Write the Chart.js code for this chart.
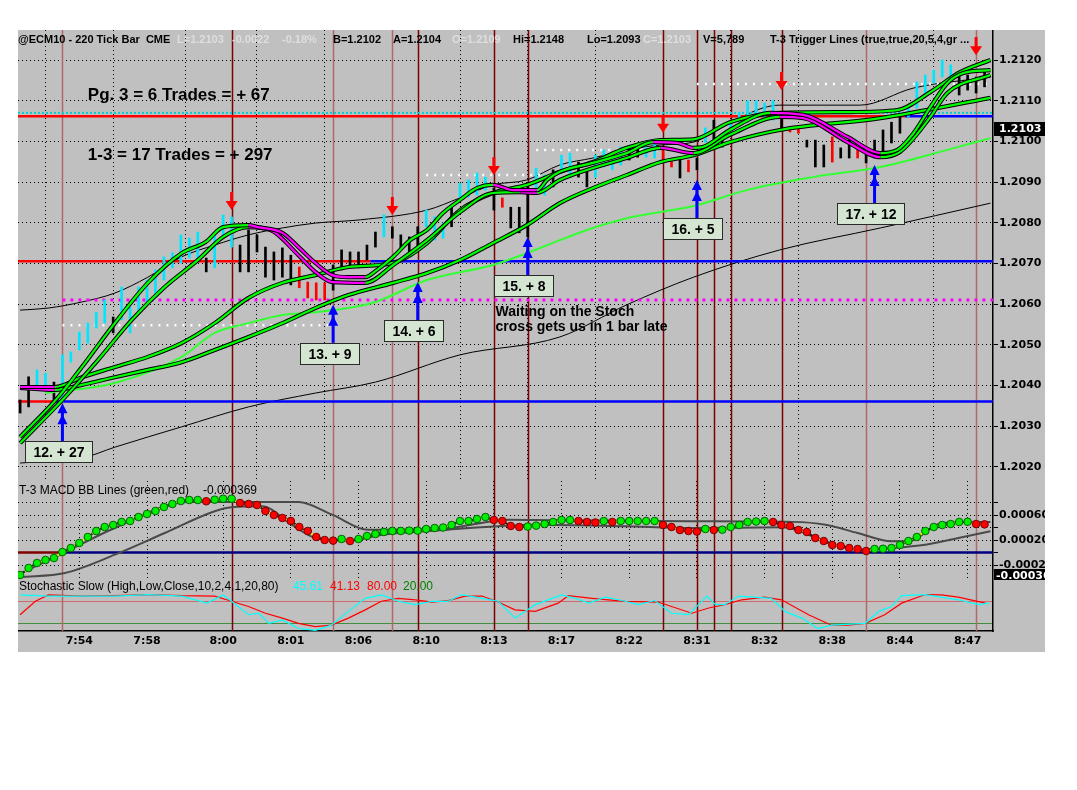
<!DOCTYPE html>
<html>
<head>
<meta charset="utf-8">
<title>ECM10 220 Tick Bar</title>
<script src="https://cdn.jsdelivr.net/npm/chart.js@4.4.1/dist/chart.umd.min.js"></script>
<style>
  html, body { margin: 0; padding: 0; background: #fff; }
  #panel { position: absolute; left: 18px; top: 30px; width: 1027px; height: 622px; background: #c0c0c0; }
  canvas { position: absolute; left: 18px; }
</style>
</head>
<body>
<div id="panel"></div>
<canvas id="price" width="1027" height="451" style="top:30px"></canvas>
<canvas id="macd" width="1027" height="99" style="top:481px"></canvas>
<canvas id="stoch" width="1027" height="72" style="top:580px"></canvas>
<script>
// ---- values ----
const timeLabels = ['7:54', '7:58', '8:00', '8:01', '8:06', '8:10', '8:13', '8:17', '8:22', '8:31', '8:32', '8:38', '8:44', '8:47'];
const timeBars = [7, 15, 24, 32, 40, 48, 56, 64, 72, 80, 88, 96, 104, 112];
const priceTicks = [1.2020, 1.2030, 1.2040, 1.2050, 1.2060, 1.2070, 1.2080, 1.2090, 1.2100, 1.2110, 1.2120];
const lastPrice = 1.2103;

const barHigh = [1.20364,1.20421,1.20438,1.20430,1.20408,1.20475,1.20482,1.20531,1.20553,1.20580,
  1.20610,1.20568,1.20642,1.20592,1.20642,1.20659,1.20684,1.20716,1.20726,1.20770,
  1.20762,1.20777,1.20713,1.20770,1.20819,1.20814,1.20745,1.20782,1.20770,1.20740,
  1.20728,1.20738,1.20720,1.20691,1.20654,1.20652,1.20652,1.20696,1.20733,1.20728,
  1.20728,1.20745,1.20777,1.20819,1.20790,1.20770,1.20765,1.20790,1.20831,1.20814,
  1.20799,1.20838,1.20897,1.20905,1.20922,1.20912,1.20885,1.20861,1.20838,1.20838,
  1.20888,1.20934,1.20917,1.20930,1.20966,1.20971,1.20949,1.20930,1.20966,1.20979,
  1.20974,1.20986,1.20986,1.20986,1.20986,1.21003,1.20979,1.20950,1.20959,1.20954,
  1.20959,1.21033,1.21052,1.21016,1.21052,1.21072,1.21100,1.21100,1.21094,1.21100,
  1.21057,1.21035,1.21033,1.21003,1.21003,1.20991,1.21011,1.20984,1.21003,1.20986,
  1.20979,1.21003,1.21028,1.21047,1.21060,1.21084,1.21146,1.21163,1.21175,1.21200,
  1.21188,1.21170,1.21163,1.21158,1.21170];
const barLow = [1.20332,1.20347,1.20396,1.20401,1.20359,1.20359,1.20457,1.20487,1.20504,1.20541,
  1.20553,1.20529,1.20561,1.20529,1.20580,1.20602,1.20622,1.20659,1.20689,1.20701,
  1.20713,1.20713,1.20679,1.20689,1.20770,1.20740,1.20679,1.20679,1.20728,1.20666,
  1.20659,1.20666,1.20647,1.20640,1.20615,1.20610,1.20610,1.20634,1.20684,1.20689,
  1.20689,1.20708,1.20740,1.20765,1.20762,1.20733,1.20728,1.20733,1.20790,1.20757,
  1.20762,1.20790,1.20856,1.20863,1.20868,1.20880,1.20831,1.20838,1.20787,1.20775,
  1.20765,1.20885,1.20868,1.20888,1.20930,1.20917,1.20912,1.20888,1.20912,1.20937,
  1.20930,1.20942,1.20954,1.20961,1.20961,1.20959,1.20950,1.20937,1.20910,1.20925,
  1.20930,1.20998,1.20996,1.20986,1.21023,1.21040,1.21047,1.21057,1.21057,1.21052,
  1.21033,1.21023,1.21020,1.20986,1.20937,1.20937,1.20949,1.20959,1.20959,1.20959,
  1.20947,1.20959,1.20961,1.20996,1.21020,1.21060,1.21082,1.21114,1.21143,1.21158,
  1.21158,1.21114,1.21126,1.21119,1.21134];
// c = up (cyan), k = black, r = red
const barKind = ('kkcckccccc' + 'ckcccccccc' + 'cckccckkkk' + 'kkkrrrrkkk' + 'kkkckkkkcc' +
  'ckcccckrkk' + 'kcckcckkcc' + 'cckkccrrkr' + 'kckkcccccc' + 'krrkkkrkkr' + 'kkkkkccccc' + 'ckkkk').split('');

// T-3 trigger lines, [bar, price]
const fastA = [[0,1.20273],[4.5,1.20371],[7.3,1.20445],[11.2,1.20553],[15.1,1.20652],[19.1,1.20725],[21.9,1.20752],
  [24,1.20789],[27,1.20794],[28.1,1.20789],[31,1.20775],[32.9,1.2074],[34.9,1.20701],[36.9,1.20671],[38.8,1.20666],
  [40.8,1.20666],[42.2,1.20684],[44.1,1.20716],[46.1,1.20757],[48.1,1.20782],[50,1.20824],[52,1.20856],[54,1.20885],
  [55.9,1.20893],[58.3,1.2088],[61.1,1.2088],[62.3,1.20905],[63.8,1.20925],[67.7,1.20947],[71.7,1.20971],[74.8,1.20998],
  [77.7,1.20996],[79.6,1.20984],[80.7,1.20986],[83.9,1.21028],[88.7,1.2107],[92.6,1.21065],[97.8,1.21011],[101.7,1.20971],
  [103.7,1.20979],[105.6,1.2102],[107.6,1.21084],[109.6,1.21143],[111.5,1.21168],[114.7,1.21175]];
const fastB = [[0,1.20258],[5.3,1.20371],[9.2,1.20462],[13.2,1.20561],[17.1,1.20642],[21,1.20708],[24,1.20765],
  [27,1.20789],[29.6,1.20782],[32.9,1.2072],[34.9,1.20679],[36.9,1.20654],[40.8,1.20652],[44.1,1.20696],[48.1,1.20757],
  [52,1.20826],[55.9,1.20873],[59.1,1.20875],[61.1,1.20873],[63.8,1.20905],[71.7,1.20959],[75.7,1.20984],[79.6,1.20971],
  [83.9,1.21016],[89.8,1.2106],[92.6,1.21057],[97.8,1.20998],[101.7,1.20961],[104,1.20974],[107.6,1.2106],
  [109.6,1.21119],[114.7,1.21163]];
const midC = [[0,1.20396],[4.1,1.20396],[7.3,1.2042],[11.2,1.20445],[15.1,1.2047],[19.1,1.20504],[23,1.20553],
  [27,1.20615],[31,1.20652],[34.9,1.20671],[38.8,1.20691],[44.1,1.20701],[48.1,1.2075],[52,1.20831],[55.9,1.20873],
  [59.9,1.20893],[63.8,1.20925],[67.7,1.20949],[71.7,1.20984],[75.7,1.21003],[79.6,1.21005],[83.9,1.21047],
  [89.8,1.2107],[97.8,1.21072],[103.7,1.21077],[107.6,1.21121],[111.1,1.2117],[114.7,1.212]];
const slowD = [[0,1.20394],[4.1,1.20389],[7.3,1.20401],[11.2,1.2042],[15.1,1.20438],[19.1,1.20457],[23,1.20487],
  [27,1.20519],[31,1.20553],[34.9,1.2059],[38.8,1.20622],[44.1,1.20652],[48.1,1.20676],[52,1.20708],[55.9,1.2075],
  [59.9,1.20794],[63.8,1.20848],[67.7,1.20885],[71.7,1.20917],[75.7,1.20949],[79.6,1.20966],[83.9,1.20998],
  [89.8,1.21028],[101.7,1.21057],[114.7,1.21107]];
const slowE = [[3,1.20381],[11.2,1.20406],[19.1,1.2047],[23,1.20529],[27,1.20553],[31,1.20573],[34.9,1.2058],
  [38.8,1.2059],[42,1.20605],[48.1,1.20659],[55.9,1.20696],[59.9,1.20725],[63.8,1.20757],[67.7,1.20787],[71.7,1.20811],
  [75.7,1.20826],[79.6,1.20841],[85.9,1.2088],[93.7,1.20912],[101.7,1.20937],[109.6,1.20979],[114.7,1.21008]];
const upperBand = [[0,1.20585],[3.3,1.2059],[7.3,1.20605],[11.2,1.20627],[15.1,1.20666],[19.1,1.20716],[23,1.20745],
  [27,1.2077],[31,1.20787],[34.9,1.20799],[40.2,1.20807],[48.1,1.20831],[52,1.20861],[55.9,1.20893],[59.9,1.20905],
  [63.8,1.20942],[67.7,1.20959],[71.7,1.20979],[75.7,1.20991],[79.6,1.20998],[81.9,1.21023],[89.8,1.21089],
  [99.3,1.21089],[105.6,1.21131],[114.7,1.21158]];
const lowerBand = [[0,1.20209],[7.3,1.20221],[11.2,1.20248],[19.1,1.20298],[27,1.20347],[34.9,1.20381],[42,1.20408],
  [52,1.20475],[63.8,1.20519],[71.7,1.20598],[79.6,1.20666],[89.8,1.20733],[101.7,1.20787],[114.7,1.20848]];

// stop levels: red until the switch bar, blue after it
const levelPrices = [1.21062, 1.20705, 1.20360];
const levelSwitchBars = [104.6, 41.4, 4.1];
const cyanLevel = 1.2107;
const magentaLevel = 1.2061, magentaFrom = 5;
const whiteLevels = [[5, 37, 1.20548], [48, 62, 1.20917], [61, 78, 1.20979], [80, 114.7, 1.21141]];

// signal bars (vertical lines), 1 = dark
const sigBars = [5, 25, 37, 44, 47, 56, 60, 76, 80, 82, 84, 90, 100, 113];
const sigDark = [0, 1, 0, 0, 1, 1, 1, 1, 1, 1, 1, 1, 0, 0];
const redArrowBars = [25, 44, 56, 76, 90, 113];
const redArrowTips = [1.20831, 1.20819, 1.20917, 1.21021, 1.21126, 1.21212];
const tradeBars = [5, 37, 47, 60, 80, 101];
const tradeTips = [1.20356, 1.20598, 1.20654, 1.20765, 1.20905, 1.20942];
const tradeLabels = ['12. + 27', '13. + 9', '14. + 6', '15. + 8', '16. + 5', '17. + 12'];
const noteTexts = ['Pg. 3 = 6 Trades = + 67', '1-3 = 17 Trades = + 297', 'Waiting on the Stoch', 'cross gets us in 1 bar late'];
const noteBars = [8, 8, 56.2, 56.2];
const notePrices = [1.21112, 1.20966, 1.2058, 1.20543];

// MACD panel
const macdValues = [-0.00036,-0.000248,-0.000168,-0.00012,-0.000088,0.000008,0.000072,0.000152,0.000248,0.000344,
  0.000408,0.00044,0.000488,0.000504,0.000568,0.000616,0.000664,0.000728,0.000776,0.000824,
  0.00084,0.00084,0.00082,0.000845,0.00086,0.00086,0.000792,0.000776,0.00076,0.000664,
  0.0006,0.000552,0.000504,0.000408,0.000344,0.000248,0.0002,0.00019,0.000216,0.000184,
  0.000216,0.000264,0.000296,0.000328,0.000344,0.000344,0.00035,0.00035,0.000376,0.000392,
  0.0004,0.00044,0.000504,0.000504,0.000536,0.000568,0.00052,0.000504,0.000424,0.000408,
  0.000415,0.00043,0.000456,0.000488,0.00052,0.00052,0.000504,0.000488,0.00048,0.000504,
  0.000488,0.000504,0.000504,0.000504,0.000504,0.000504,0.00044,0.000408,0.00036,0.000344,
  0.000335,0.000376,0.00036,0.000365,0.000408,0.00044,0.000488,0.000495,0.000504,0.000488,
  0.00044,0.000424,0.00036,0.000328,0.000232,0.000184,0.00012,0.000104,0.000072,0.000056,
  0.000024,0.000056,0.00006,0.000072,0.00012,0.000184,0.000248,0.000344,0.000408,0.00044,
  0.000456,0.000488,0.000492,0.000456,0.00045];
const macdUpper = [[0,-0.00034],[4.9,-0.000024],[11.2,0.000392],[19.9,0.000808],[32.9,0.000808],[36.9,0.000605],
  [41.1,0.000365],[50.6,0.000392],[57.7,0.000525],[63.6,0.000515],[71.5,0.000509],[79.4,0.0005],[91.3,0.00049],
  [95.2,0.000445],[99,0.000312],[103,0.000179],[105,0.000179],[109,0.000472],[114.7,0.000488]];
const macdLower = [[0,-0.000392],[5.3,-0.000328],[11.2,-0.000035],[17.1,0.000312],[23,0.000659],[25,0.000723],
  [28.6,0.000739],[32.1,0.000445],[34.9,0.000232],[38.8,0.000189],[42.8,0.000285],[50.6,0.000365],[56.5,0.000419],
  [60.9,0.000445],[71.5,0.000419],[79.4,0.000392],[90.1,0.000403],[95.2,0.000179],[99,0.000045],[103,0.000072],
  [107,0.000125],[110.9,0.000232],[114.7,0.000339]];
const macdTicks = [0.0008, 0.0006, 0.0004, 0.0002, 0, -0.0002];
const macdLabelled = [0.0006, 0.0002, -0.0002];
const macdZeroSwitch = 5;
const macdReadout = -0.000369;

// Stochastic panel, [bar, value]
const stochK = [[0,97],[3.35,94],[7.3,94],[11.2,94],[15.2,98],[19.1,94],[22.1,75],[24,97],[25,80],[27,44],[28.2,48],
  [29.4,21],[31,30],[32.9,7],[34.9,2],[36.8,16],[38.8,53],[40.8,88],[42.7,97],[44.7,80],[46.7,71],[48.7,80],[50.6,80],
  [52.2,98],[54.6,88],[56.5,80],[58.5,35],[60.9,71],[64,97],[65.6,88],[67.2,75],[69.2,91],[71.5,80],[73.1,71],[75,82],
  [77,48],[79,44],[81.2,94],[82.2,71],[83.3,71],[84.9,94],[88.8,88],[90.4,53],[92.4,35],[94.3,7],[95.9,16],[99.9,21],
  [101.5,53],[103,66],[104.2,95],[107,98],[110.9,84],[113.3,71],[114.5,75]];
const stochD = [[0,44],[1.8,80],[3.35,97],[7.3,94],[11.2,95],[15.2,98],[19.1,95],[23,94],[25,80],[27,66],[29,48],
  [31,35],[32.9,21],[34.9,12],[36.8,16],[38.8,35],[40.8,57],[42.7,80],[44.7,88],[46.7,84],[48.7,78],[50.6,82],[52.6,94],
  [54.6,94],[56.5,78],[58.5,57],[60.9,53],[63.6,75],[64.8,95],[67.6,88],[71.5,80],[75.4,78],[79.4,48],[81.4,62],
  [83.3,71],[85.3,84],[88,91],[90,84],[93.2,44],[95.9,16],[97.9,16],[99.9,21],[102.2,44],[104.2,75],[107,98],
  [108.9,97],[110.9,91],[114.1,75]];
const stochLevels = [80, 20];
const stochReadout = ['45.61', '41.13', '80.00', '20.00'];

// ---- drawing ----
const F = '"Liberation Sans", Arial, sans-serif';
const AX = '"DejaVu Sans", sans-serif';
Chart.defaults.font.family = F;

const pts = a => a.map(([x, y]) => ({x, y}));
const kindColor = {c: '#00e6ff', k: '#000000', r: '#ff0000'};

function xAxis(withLabels) {
  return {
    type: 'linear', min: -0.25, max: 115, offset: false,
    afterBuildTicks: s => { s.ticks = timeBars.map(v => ({value: v})); },
    afterFit: s => { s.height = withLabels ? 21 : 0; s.paddingLeft = 0; s.paddingRight = 0; },
    ticks: { display: withLabels, autoSkip: false, maxRotation: 0, padding: 4, color: '#000',
      font: {family: AX, weight: 'bold', size: 11},
      callback: v => timeLabels[timeBars.indexOf(v)] },
    grid: { drawTicks: false, drawOnChartArea: !withLabels, color: '#000', lineWidth: 1 },
    border: { display: withLabels, color: '#000', width: 1.5, dash: [1, 3] }
  };
}

function yAxis(min, max, ticks, label, gridColor, dash, showTicks) {
  return {
    position: 'right', min, max,
    afterBuildTicks: s => { s.ticks = ticks.map(v => ({value: v})); },
    afterFit: s => { s.width = 52; s.paddingTop = 0; s.paddingBottom = 0; },
    ticks: { display: showTicks, color: '#000', padding: 1, font: {family: AX, weight: 'bold', size: 11}, callback: label },
    grid: { color: gridColor, lineWidth: 1, drawTicks: showTicks, tickLength: 5, tickColor: '#000', tickBorderDash: [10, 0] },
    border: { display: true, color: '#000', width: 1.5, dash }
  };
}

const baseOptions = {
  responsive: false, animation: false, events: [],
  layout: { padding: 0, autoPadding: false },
  elements: { point: { radius: 0 }, line: { tension: 0 } },
  plugins: { legend: { display: false }, tooltip: { enabled: false } }
};

const signalLines = {
  id: 'signalLines',
  beforeDatasetsDraw(chart) {
    const {ctx, chartArea: a, scales: {x}} = chart;
    ctx.save();
    ctx.lineWidth = 1.5;
    sigBars.forEach((b, k) => {
      const px = Math.round(x.getPixelForValue(b)) + 0.5;
      ctx.strokeStyle = sigDark[k] ? '#7c0000' : '#b06868';
      ctx.beginPath(); ctx.moveTo(px, a.top); ctx.lineTo(px, a.bottom); ctx.stroke();
    });
    ctx.restore();
  }
};

const headerParts = [
  ['@ECM10 - 220 Tick Bar  CME', 18, '#000'], ['L=1.2103', 177, '#dedede'], ['-0.0022', 232, '#dedede'],
  ['-0.18%', 282, '#dedede'], ['B=1.2102', 333, '#000'], ['A=1.2104', 393, '#000'], ['O=1.2109', 452, '#dedede'],
  ['Hi=1.2148', 513, '#000'], ['Lo=1.2093', 587, '#000'], ['C=1.2103', 643, '#dedede'], ['V=5,789', 703, '#000'],
  ['T-3 Trigger Lines (true,true,20,5,4,gr ...', 770, '#000']
];

const priceOverlay = {
  id: 'priceOverlay',
  afterDatasetsDraw(chart) {
    const {ctx, chartArea: a, scales: {x, y}} = chart;
    ctx.save();
    // sell arrows
    ctx.fillStyle = '#ff0000';
    redArrowBars.forEach((b, k) => {
      const px = x.getPixelForValue(b), py = y.getPixelForValue(redArrowTips[k]);
      ctx.fillRect(px - 1.5, py - 18, 3, 10);
      ctx.beginPath(); ctx.moveTo(px - 6, py - 9); ctx.lineTo(px + 6, py - 9); ctx.lineTo(px, py); ctx.closePath(); ctx.fill();
    });
    // entry arrows and result boxes
    tradeBars.forEach((b, k) => {
      const px = x.getPixelForValue(b), py = y.getPixelForValue(tradeTips[k]);
      ctx.fillStyle = '#0000ff';
      ctx.fillRect(px - 1.5, py + 6, 3, 32);
      [0, 11].forEach(d => {
        ctx.beginPath(); ctx.moveTo(px, py + d); ctx.lineTo(px + 5, py + d + 10); ctx.lineTo(px - 5, py + d + 10);
        ctx.closePath(); ctx.fill();
      });
      ctx.font = 'bold 14px ' + F;
      const w = Math.round(ctx.measureText(tradeLabels[k]).width + 16), h = 21;
      const bx = Math.round(px - 4 - w / 2) + 0.5, by = Math.round(py + 38) + 0.5;
      ctx.fillStyle = '#d4e6d2'; ctx.fillRect(bx, by, w, h);
      ctx.strokeStyle = '#2a2a2a'; ctx.lineWidth = 1; ctx.strokeRect(bx, by, w, h);
      ctx.fillStyle = '#000'; ctx.textAlign = 'center'; ctx.textBaseline = 'middle';
      ctx.fillText(tradeLabels[k], bx + w / 2, by + h / 2 + 1);
    });
    // notes
    ctx.textAlign = 'left'; ctx.textBaseline = 'middle'; ctx.fillStyle = '#000';
    noteTexts.forEach((t, k) => {
      ctx.font = 'bold ' + (k < 2 ? 17 : 14) + 'px ' + F;
      ctx.fillText(t, x.getPixelForValue(noteBars[k]), y.getPixelForValue(notePrices[k]));
    });
    // header line
    ctx.font = 'bold 11px ' + F;
    headerParts.forEach(([t, px, c]) => { ctx.fillStyle = c; ctx.fillText(t, px - 18, a.top + 10); });
    ctx.restore();
  },
  afterDraw(chart) {
    const {ctx, chartArea: a, scales: {y}} = chart;
    const py = Math.round(y.getPixelForValue(lastPrice));
    ctx.save();
    ctx.fillStyle = '#000'; ctx.fillRect(a.right + 1, py - 7, chart.width - a.right, 14);
    ctx.fillStyle = '#fff'; ctx.font = 'bold 11px ' + AX; ctx.textBaseline = 'middle'; ctx.textAlign = 'left';
    ctx.fillText(lastPrice.toFixed(4), a.right + 6, py);
    ctx.restore();
  }
};

// price panel datasets
const priceSets = [];
[fastA, fastB, midC, slowD].forEach((line, k) => {
  priceSets.push({ data: pts(line), borderColor: '#00ff00', borderWidth: 2.2, cubicInterpolationMode: 'monotone',
    segment: { borderColor: c => c.p1.parsed.y <= c.p0.parsed.y ? '#ff00ff' : '#00ff00' }, order: 2 * k + 1 });
  priceSets.push({ data: pts(line), borderColor: '#000', borderWidth: 4.2, cubicInterpolationMode: 'monotone', order: 2 * k + 2 });
});
priceSets.push({ data: pts(slowE), borderColor: '#33ff33', borderWidth: 2, cubicInterpolationMode: 'monotone', order: 9 });
priceSets.push({ type: 'bar', data: barLow.map((lo, i) => ({x: i, y: [lo, barHigh[i]]})),
  backgroundColor: barKind.map(k => kindColor[k]), barThickness: 2, order: 10 });
levelPrices.forEach((p, k) => {
  priceSets.push({ data: [{x: -0.25, y: p}, {x: levelSwitchBars[k], y: p}, {x: 115, y: p}], borderWidth: 2.5,
    borderColor: '#0000ff', segment: { borderColor: c => c.p0DataIndex === 0 ? '#ff0000' : '#0000ff' }, order: 11 });
});
priceSets.push({ data: [{x: -0.25, y: cyanLevel}, {x: 115, y: cyanLevel}], borderColor: '#00d0d0', borderWidth: 2, borderDash: [2, 2], order: 12 });
priceSets.push({ data: [{x: magentaFrom, y: magentaLevel}, {x: 115, y: magentaLevel}], borderColor: '#ff00ff', borderWidth: 3, borderDash: [3, 5], order: 12 });
whiteLevels.forEach(([a, b, p]) => {
  priceSets.push({ data: [{x: a, y: p}, {x: b, y: p}], borderColor: '#ffffff', borderWidth: 2.5, borderDash: [2, 6], order: 12 });
});
[upperBand, lowerBand].forEach(line => {
  priceSets.push({ data: pts(line), borderColor: '#000', borderWidth: 1, cubicInterpolationMode: 'monotone', order: 13 });
});

new Chart(document.getElementById('price'), {
  type: 'line',
  data: { datasets: priceSets },
  options: { ...baseOptions,
    scales: { x: xAxis(false), y: yAxis(1.201648, 1.212738, priceTicks, v => v.toFixed(4), '#000', [1, 3], true) } },
  plugins: [signalLines, priceOverlay]
});

// MACD panel
const macdOverlay = {
  id: 'macdOverlay',
  afterDatasetsDraw(chart) {
    const {ctx, chartArea: a} = chart;
    ctx.save();
    ctx.font = '12px ' + F; ctx.fillStyle = '#000'; ctx.textBaseline = 'middle'; ctx.textAlign = 'left';
    ctx.fillText('T-3 MACD BB Lines (green,red)', 1, a.top + 10);
    ctx.fillText(macdReadout.toFixed(6), 185, a.top + 10);
    ctx.restore();
  },
  afterDraw(chart) {
    const {ctx, chartArea: a, scales: {y}} = chart;
    const py = Math.round(y.getPixelForValue(macdReadout));
    ctx.save();
    ctx.fillStyle = '#000'; ctx.fillRect(a.right + 1, py - 7, chart.width - a.right, 13);
    ctx.fillStyle = '#fff'; ctx.font = 'bold 11px ' + AX; ctx.textBaseline = 'middle'; ctx.textAlign = 'left';
    ctx.fillText(macdReadout.toFixed(6), a.right + 3, py);
    ctx.restore();
  }
};
const macdDot = c => (c.dataIndex > 0 && macdValues[c.dataIndex] < macdValues[c.dataIndex - 1]) ? '#ff0000' : '#00ee00';
const macdEdge = c => (c.dataIndex > 0 && macdValues[c.dataIndex] < macdValues[c.dataIndex - 1]) ? '#7a0000' : '#006400';

new Chart(document.getElementById('macd'), {
  type: 'line',
  data: { datasets: [
    { data: macdValues.map((v, i) => ({x: i, y: v})), borderColor: '#ffff00', borderWidth: 2, borderDash: [3, 3],
      pointRadius: 3.8, pointBackgroundColor: macdDot, pointBorderColor: macdEdge, pointBorderWidth: 1, order: 1 },
    { data: macdValues.map((v, i) => ({x: i, y: v})), borderColor: '#202020', borderWidth: 2, order: 2 },
    { data: pts(macdUpper), borderColor: '#4a4a4a', borderWidth: 2, cubicInterpolationMode: 'monotone', order: 3 },
    { data: pts(macdLower), borderColor: '#4a4a4a', borderWidth: 2, cubicInterpolationMode: 'monotone', order: 3 },
    { data: [{x: -0.25, y: 0}, {x: macdZeroSwitch, y: 0}, {x: 115, y: 0}], borderWidth: 2.5, borderColor: '#000080',
      segment: { borderColor: c => c.p0DataIndex === 0 ? '#800000' : '#000080' }, order: 4 }
  ] },
  options: { ...baseOptions,
    scales: { x: xAxis(false),
      y: yAxis(-0.00044, 0.001144, macdTicks,
        v => macdLabelled.some(m => Math.abs(m - v) < 1e-9) ? v.toFixed(6) : '',
        c => (c.tick && c.tick.value === 0) ? 'rgba(0,0,0,0)' : '#000', [1, 3], true) } },
  plugins: [signalLines, macdOverlay]
});

// Stochastic panel
const stochOverlay = {
  id: 'stochOverlay',
  afterDatasetsDraw(chart) {
    const {ctx, chartArea: a} = chart;
    ctx.save();
    ctx.font = '12px ' + F; ctx.textBaseline = 'middle'; ctx.textAlign = 'left';
    ctx.fillStyle = '#000';
    ctx.fillText('Stochastic Slow (High,Low,Close,10,2,4,1,20,80)', 1, a.top + 7);
    const colors = ['#00ffff', '#ff0000', '#ff0000', '#008000'];
    [275, 312, 349, 385].forEach((px, k) => { ctx.fillStyle = colors[k]; ctx.fillText(stochReadout[k], px, a.top + 7); });
    ctx.restore();
  }
};

new Chart(document.getElementById('stoch'), {
  type: 'line',
  data: { datasets: [
    { data: pts(stochK), borderColor: '#00ffff', borderWidth: 1.2, order: 1 },
    { data: pts(stochD), borderColor: '#ff0000', borderWidth: 1.2, order: 2 }
  ] },
  options: { ...baseOptions,
    scales: { x: xAxis(true),
      y: yAxis(0.4, 137, stochLevels, () => '',
        c => (c.tick && c.tick.value === 80) ? '#d06a6a' : '#3f8f3f', [], false) } },
  plugins: [signalLines, stochOverlay]
});
</script>
</body>
</html>
